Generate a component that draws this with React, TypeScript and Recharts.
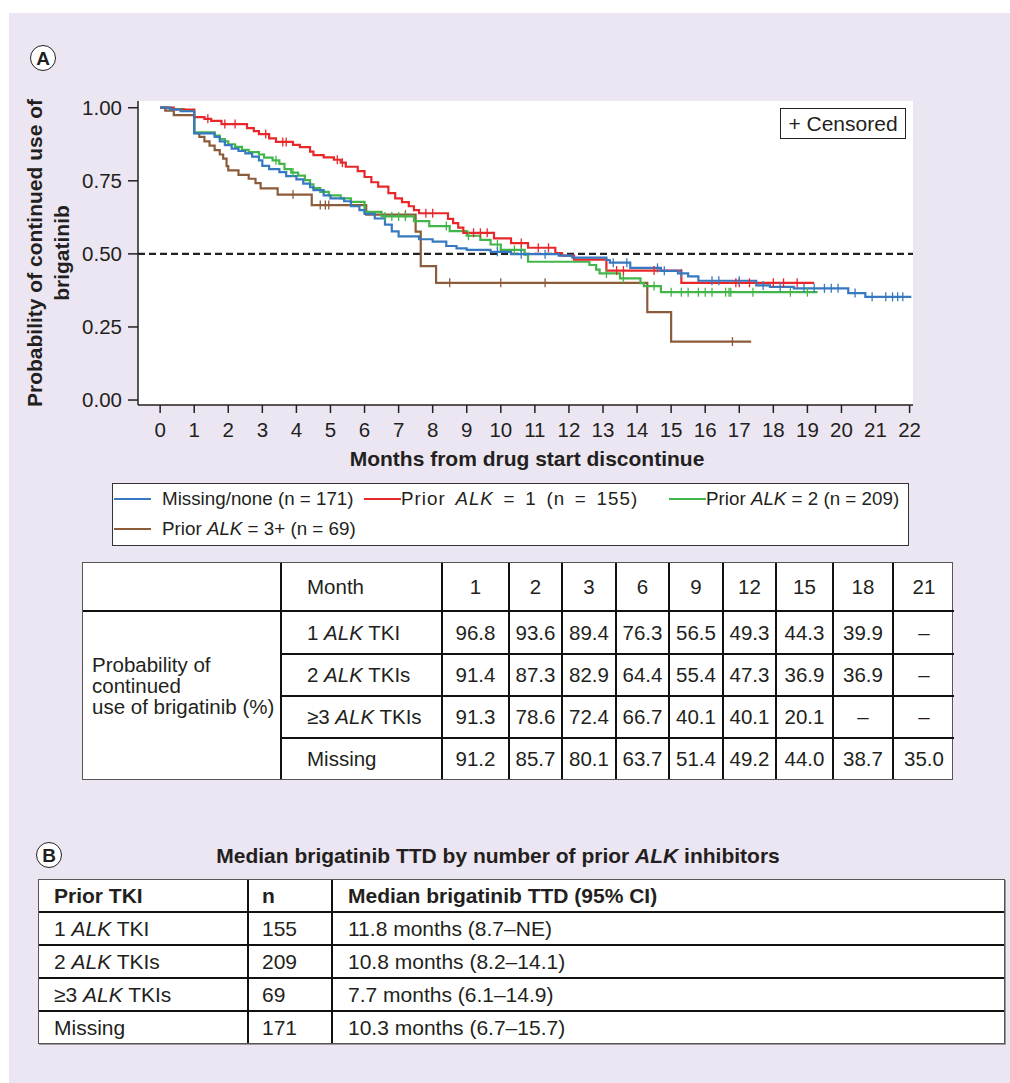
import React from 'react';
import { LineChart, Line, XAxis, YAxis, CartesianGrid, ReferenceLine, Legend } from 'recharts';

const FONT = '"Liberation Sans", Arial, Helvetica, sans-serif';
const INK = '#231f20';
const LAV = '#ece6f2';

const monthTicks = [0, 1, 2, 3, 4, 5, 6, 7, 8, 9, 10, 11, 12, 13, 14, 15, 16, 17, 18, 19, 20, 21, 22];
const probTicks = [0, 0.25, 0.5, 0.75, 1];

// Kaplan-Meier steps: [month, probability]
const missingSteps = [
  [0, 1], [0.3, 0.994], [0.6, 0.988], [1.0, 0.912], [1.6, 0.9], [1.75, 0.885], [1.9, 0.872],
  [2.1, 0.86], [2.3, 0.852], [2.5, 0.844], [2.7, 0.833], [2.9, 0.82], [3.0, 0.801], [3.2, 0.79],
  [3.5, 0.78], [3.7, 0.766], [4.0, 0.755], [4.2, 0.74], [4.4, 0.728], [4.5, 0.718], [4.8, 0.7],
  [5.0, 0.69], [5.4, 0.68], [5.6, 0.663], [5.85, 0.65], [6.0, 0.637], [6.3, 0.621], [6.6, 0.6],
  [6.8, 0.577], [7.0, 0.56], [7.6, 0.55], [8.0, 0.542], [8.4, 0.527], [8.7, 0.519], [9.0, 0.514],
  [9.7, 0.507], [10.3, 0.499], [11.7, 0.494], [12.1, 0.487], [13.1, 0.479], [13.2, 0.47],
  [13.8, 0.452], [14.7, 0.442], [15.2, 0.433], [15.5, 0.423], [15.8, 0.408], [17.5, 0.392],
  [17.9, 0.387], [18.6, 0.382], [20.2, 0.366], [20.7, 0.353],
];
const missingCensored = [9.9, 10.6, 11.3, 13.3, 13.7, 14.6, 14.8, 15.3, 16.2, 16.4, 17.0, 17.7, 18.2, 18.9, 19.2, 19.5, 19.7, 19.9, 20.4, 20.9, 21.3, 21.5, 21.65, 21.8];
const missingEnd = 22.05;

const alk1Steps = [
  [0, 1], [0.4, 0.994], [1.0, 0.968], [1.3, 0.962], [1.5, 0.955], [1.8, 0.944], [2.55, 0.93],
  [2.75, 0.92], [2.9, 0.91], [3.2, 0.895], [3.4, 0.883], [3.9, 0.873], [4.1, 0.865], [4.4, 0.85],
  [4.5, 0.838], [4.8, 0.83], [5.1, 0.822], [5.3, 0.812], [5.45, 0.798], [5.8, 0.783], [6.0, 0.763],
  [6.2, 0.745], [6.4, 0.73], [6.7, 0.708], [6.9, 0.69], [7.1, 0.677], [7.3, 0.663], [7.45, 0.65],
  [7.6, 0.639], [8.45, 0.62], [8.6, 0.605], [8.75, 0.59], [8.9, 0.572], [9.8, 0.553], [10.3, 0.537],
  [10.8, 0.521], [11.6, 0.503], [11.8, 0.494], [12.15, 0.48], [13.1, 0.443], [15.3, 0.401],
];
const alk1Censored = [1.4, 1.9, 2.2, 3.1, 3.6, 3.7, 5.2, 5.35, 7.8, 8.0, 9.2, 9.4, 9.6, 10.6, 11.1, 11.4, 13.4, 13.6, 14.5, 16.9, 17.0, 17.3, 18.0, 18.3, 18.7];
const alk1End = 19.2;

const alk2Steps = [
  [0, 1], [0.3, 0.995], [0.7, 0.99], [1.0, 0.916], [1.6, 0.905], [1.75, 0.893], [1.9, 0.885],
  [2.0, 0.875], [2.2, 0.866], [2.4, 0.856], [2.6, 0.848], [2.9, 0.84], [3.05, 0.829], [3.3, 0.82],
  [3.5, 0.808], [3.65, 0.79], [3.85, 0.778], [4.05, 0.768], [4.25, 0.752], [4.4, 0.738], [4.5, 0.725],
  [4.7, 0.712], [4.95, 0.7], [5.3, 0.69], [5.6, 0.678], [6.0, 0.644], [6.5, 0.628], [7.45, 0.612],
  [7.9, 0.595], [8.5, 0.578], [9.0, 0.562], [9.4, 0.548], [9.7, 0.532], [10.0, 0.514], [10.7, 0.497],
  [10.8, 0.473], [12.6, 0.462], [12.8, 0.446], [12.9, 0.433], [13.5, 0.416], [14.1, 0.4],
  [14.2, 0.39], [14.7, 0.369],
];
const alk2Censored = [3.4, 3.9, 6.6, 6.8, 7.0, 7.2, 8.4, 9.05, 9.9, 10.4, 10.6, 13.1, 13.6, 14.5, 15.0, 15.3, 15.5, 15.8, 16.0, 16.2, 16.6, 16.7, 16.75, 17.4, 18.5, 19.0];
const alk2End = 19.3;

const alk3Steps = [
  [0, 1], [0.15, 0.99], [0.4, 0.975], [1.0, 0.913], [1.15, 0.9], [1.3, 0.885], [1.45, 0.87],
  [1.6, 0.855], [1.75, 0.84], [1.85, 0.826], [1.95, 0.8], [2.0, 0.786], [2.3, 0.77], [2.6, 0.757],
  [2.8, 0.742], [2.95, 0.724], [3.45, 0.703], [4.45, 0.667], [6.05, 0.634], [7.5, 0.576],
  [7.65, 0.458], [8.1, 0.401], [14.3, 0.301], [15.0, 0.2],
];
const alk3Censored = [3.9, 4.7, 4.85, 4.95, 7.2, 8.5, 10.0, 11.3, 16.8];
const alk3End = 17.35;

// summary table (panel A)
const tableMonths = ['1', '2', '3', '6', '9', '12', '15', '18', '21'];
const oneTkiRow = ['96.8', '93.6', '89.4', '76.3', '56.5', '49.3', '44.3', '39.9', '–'];
const twoTkiRow = ['91.4', '87.3', '82.9', '64.4', '55.4', '47.3', '36.9', '36.9', '–'];
const threeTkiRow = ['91.3', '78.6', '72.4', '66.7', '40.1', '40.1', '20.1', '–', '–'];
const missingRow = ['91.2', '85.7', '80.1', '63.7', '51.4', '49.2', '44.0', '38.7', '35.0'];

// median table (panel B)
const medianGroups = ['1 ALK TKI', '2 ALK TKIs', '≥3 ALK TKIs', 'Missing'];
const medianN = ['155', '209', '69', '171'];
const medianTTD = ['11.8 months (8.7–NE)', '10.8 months (8.2–14.1)', '7.7 months (6.1–14.9)', '10.3 months (6.7–15.7)'];

type Pt = { t: number; s: number; c: boolean };

function buildCurve(steps: number[][], censored: number[], end: number): Pt[] {
  const pts: Pt[] = steps.map(([t, s]) => ({ t, s, c: false }));
  censored.forEach((t) => {
    let s = steps[0][1];
    for (const [st, sv] of steps) if (st <= t) s = sv;
    pts.push({ t, s, c: true });
  });
  pts.push({ t: end, s: steps[steps.length - 1][1], c: false });
  return pts.sort((a, b) => a.t - b.t);
}

const series = [
  { key: 'alk3', color: '#8c5b3a', data: buildCurve(alk3Steps, alk3Censored, alk3End) },
  { key: 'alk2', color: '#43b649', data: buildCurve(alk2Steps, alk2Censored, alk2End) },
  { key: 'alk1', color: '#e8272b', data: buildCurve(alk1Steps, alk1Censored, alk1End) },
  { key: 'missing', color: '#3679c0', data: buildCurve(missingSteps, missingCensored, missingEnd) },
];

const legendItems = [
  { color: '#3679c0', pre: 'Missing/none (n = 171)', it: '', post: '', x: 1, row: 0, gap: 11, ls: 0, ws: 0 },
  { color: '#e8272b', pre: 'Prior ', it: 'ALK', post: ' = 1 (n = 155)', x: 251, row: 0, gap: 0, ls: 1, ws: 3.5 },
  { color: '#43b649', pre: 'Prior ', it: 'ALK', post: ' = 2 (n = 209)', x: 556, row: 0, gap: 0, ls: 0, ws: 0 },
  { color: '#8c5b3a', pre: 'Prior ', it: 'ALK', post: ' = 3+ (n = 69)', x: 1, row: 1, gap: 11, ls: 0, ws: 0 },
];

function censorDot(color: string) {
  return (props: any) => {
    const { cx, cy, payload, index } = props;
    if (!payload || !payload.c) return null;
    return <path key={`c-${index}`} d={`M${cx},${cy - 4.5}V${cy + 4.5}`} stroke={color} strokeWidth={1.3} />;
  };
}

function LegendBox() {
  return (
    <div style={{ width: 797, height: 63, boxSizing: 'border-box', border: '1px solid #333', background: '#fff', position: 'relative', fontFamily: FONT, fontSize: 18.8, color: INK }}>
      {legendItems.map((d, i) => (
        <div key={i} style={{ position: 'absolute', left: d.x, top: d.row === 0 ? 3 : 33, height: 24, display: 'flex', alignItems: 'center', whiteSpace: 'nowrap', letterSpacing: d.ls, wordSpacing: d.ws }}>
          <span style={{ display: 'inline-block', width: 37, height: 2.5, background: d.color, marginRight: d.gap }} />
          <span>
            {d.pre}
            {d.it && <i>{d.it}</i>}
            {d.post}
          </span>
        </div>
      ))}
    </div>
  );
}

function Circled({ letter, cx, cy }: { letter: string; cx: number; cy: number }) {
  return (
    <div style={{ position: 'absolute', left: cx - 13, top: cy - 13, width: 26, height: 26, boxSizing: 'border-box', border: '1.8px solid #222', borderRadius: '50%', background: '#fff', display: 'flex', alignItems: 'center', justifyContent: 'center', fontWeight: 'bold', fontSize: 19, lineHeight: 1 }}>
      {letter}
    </div>
  );
}

function alkLabel(text: string) {
  const m = text.match(/^(.*?)(ALK)(.*)$/);
  if (!m) return text;
  return (
    <>
      {m[1]}
      <i>{m[2]}</i>
      {m[3]}
    </>
  );
}

const LINE = '2px solid #111';

export default function App() {
  const tableRows = [
    { label: '1 ALK TKI', vals: oneTkiRow },
    { label: '2 ALK TKIs', vals: twoTkiRow },
    { label: '≥3 ALK TKIs', vals: threeTkiRow },
    { label: 'Missing', vals: missingRow },
  ];
  const colWidths = [199, 161, 67, 53, 54, 53, 54, 53, 57, 60, 60];
  const rowHeights = [49, 42, 42, 41, 40];

  return (
    <div style={{ position: 'absolute', left: 0, top: 0, width: 1010, height: 1083, background: '#fff', fontFamily: FONT, color: INK, overflow: 'hidden' }}>
      <div style={{ position: 'absolute', left: 9, top: 13, right: 0, bottom: 0, background: LAV }} />
      <Circled letter="A" cx={43} cy={58} />

      <div style={{ position: 'absolute', left: 0, top: 0 }}>
        <LineChart width={1010} height={560} margin={{ top: 101, right: 97, bottom: 115, left: 78 }}>
          <CartesianGrid horizontal={false} vertical={false} fill="#fff" />
          <XAxis
            type="number"
            dataKey="t"
            domain={[-0.65, 22.1]}
            allowDataOverflow
            ticks={monthTicks}
            interval={0}
            height={40}
            tickSize={8}
            tickMargin={9}
            tick={{ fill: INK, fontSize: 20.5, fontFamily: FONT }}
            tickLine={{ stroke: INK, strokeWidth: 1.5 }}
            axisLine={{ stroke: INK, strokeWidth: 1.5 }}
            label={{
              content: () => (
                <text x={527} y={466} textAnchor="middle" fontWeight="bold" fontSize={21} fontFamily={FONT} fill={INK}>
                  Months from drug start discontinue
                </text>
              ),
            }}
          />
          <YAxis
            type="number"
            dataKey="s"
            domain={[-0.017, 1.023]}
            allowDataOverflow
            ticks={probTicks}
            interval={0}
            width={60}
            tickSize={10}
            tickMargin={6}
            tickFormatter={(v: number) => v.toFixed(2)}
            tick={{ fill: INK, fontSize: 20.5, fontFamily: FONT }}
            tickLine={{ stroke: INK, strokeWidth: 1.5 }}
            axisLine={{ stroke: INK, strokeWidth: 1.5 }}
            label={{
              content: () => (
                <g fontWeight="bold" fontSize={21} fontFamily={FONT} fill={INK}>
                  <text transform="translate(42,253) rotate(-90)" textAnchor="middle">Probability of continued use of</text>
                  <text transform="translate(69,253) rotate(-90)" textAnchor="middle">brigatinib</text>
                </g>
              ),
            }}
          />
          <ReferenceLine y={0.5} stroke="#222" strokeWidth={2.4} strokeDasharray="7 4" />
          {series.map((sr) => (
            <Line
              key={sr.key}
              data={sr.data}
              dataKey="s"
              type="stepAfter"
              stroke={sr.color}
              strokeWidth={2.2}
              dot={censorDot(sr.color)}
              activeDot={false}
              isAnimationActive={false}
            />
          ))}
          <Legend
            layout="vertical"
            align="center"
            verticalAlign="middle"
            wrapperStyle={{ left: 112, top: 483, width: 797, height: 63 }}
            content={() => <LegendBox />}
          />
        </LineChart>
      </div>

      <div style={{ position: 'absolute', left: 780, top: 108, width: 126, height: 31, boxSizing: 'border-box', border: '1.2px solid #222', background: '#fff', fontSize: 21, lineHeight: '29px', textAlign: 'center', whiteSpace: 'nowrap' }}>
        + Censored
      </div>

      {/* Panel A table */}
      <div style={{ position: 'absolute', left: 82, top: 562, width: 871, height: 218, boxSizing: 'border-box', border: '1px solid #555', background: '#fff' }}>
        <table style={{ borderCollapse: 'separate', borderSpacing: 0, tableLayout: 'fixed', width: '100%', height: '100%', fontSize: 20.5, color: INK }}>
          <colgroup>
            {colWidths.map((w, i) => (
              <col key={i} style={{ width: w }} />
            ))}
          </colgroup>
          <tbody>
            <tr style={{ height: rowHeights[0] }}>
              <td style={{ borderRight: LINE, borderBottom: LINE }} />
              <td style={{ borderRight: LINE, borderBottom: LINE, paddingLeft: 25 }}>Month</td>
              {tableMonths.map((m, i) => (
                <td key={i} style={{ borderRight: i < tableMonths.length - 1 ? LINE : 'none', borderBottom: LINE, textAlign: 'center' }}>
                  {m}
                </td>
              ))}
            </tr>
            {tableRows.map((r, ri) => {
              const last = ri === tableRows.length - 1;
              return (
                <tr key={ri} style={{ height: rowHeights[ri + 1] }}>
                  {ri === 0 && (
                    <td rowSpan={4} style={{ borderRight: LINE, paddingLeft: 9, paddingBottom: 22, lineHeight: '21px', whiteSpace: 'nowrap' }}>
                      Probability of
                      <br />
                      continued
                      <br />
                      use of brigatinib (%)
                    </td>
                  )}
                  <td style={{ borderRight: LINE, borderBottom: last ? 'none' : LINE, paddingLeft: 25, whiteSpace: 'nowrap' }}>{alkLabel(r.label)}</td>
                  {r.vals.map((v, i) => (
                    <td key={i} style={{ borderRight: i < r.vals.length - 1 ? LINE : 'none', borderBottom: last ? 'none' : LINE, textAlign: 'center', whiteSpace: 'nowrap' }}>
                      {v}
                    </td>
                  ))}
                </tr>
              );
            })}
          </tbody>
        </table>
      </div>

      {/* Panel B */}
      <Circled letter="B" cx={49} cy={855} />
      <div style={{ position: 'absolute', left: 0, top: 843, width: 996, textAlign: 'center', fontWeight: 'bold', fontSize: 21, lineHeight: '26px' }}>
        Median brigatinib TTD by number of prior <i>ALK</i> inhibitors
      </div>
      <div style={{ position: 'absolute', left: 38, top: 879, width: 967, height: 165, boxSizing: 'border-box', border: '1px solid #555', boxShadow: '1px 1px 0 #999', background: '#fff' }}>
        <table style={{ borderCollapse: 'separate', borderSpacing: 0, tableLayout: 'fixed', width: '100%', height: '100%', fontSize: 21, color: INK }}>
          <colgroup>
            <col style={{ width: 210 }} />
            <col style={{ width: 84 }} />
            <col />
          </colgroup>
          <tbody>
            <tr style={{ height: 33, fontWeight: 'bold' }}>
              <td style={{ borderRight: LINE, borderBottom: LINE, paddingLeft: 15 }}>Prior TKI</td>
              <td style={{ borderRight: LINE, borderBottom: LINE, paddingLeft: 13 }}>n</td>
              <td style={{ borderBottom: LINE, paddingLeft: 15 }}>Median brigatinib TTD (95% CI)</td>
            </tr>
            {medianGroups.map((g, i) => {
              const last = i === medianGroups.length - 1;
              const bb = last ? 'none' : LINE;
              return (
                <tr key={i} style={{ height: last ? 31 : 33 }}>
                  <td style={{ borderRight: LINE, borderBottom: bb, paddingLeft: 15, whiteSpace: 'nowrap' }}>{alkLabel(g)}</td>
                  <td style={{ borderRight: LINE, borderBottom: bb, paddingLeft: 13 }}>{medianN[i]}</td>
                  <td style={{ borderBottom: bb, paddingLeft: 15 }}>{medianTTD[i]}</td>
                </tr>
              );
            })}
          </tbody>
        </table>
      </div>
    </div>
  );
}
